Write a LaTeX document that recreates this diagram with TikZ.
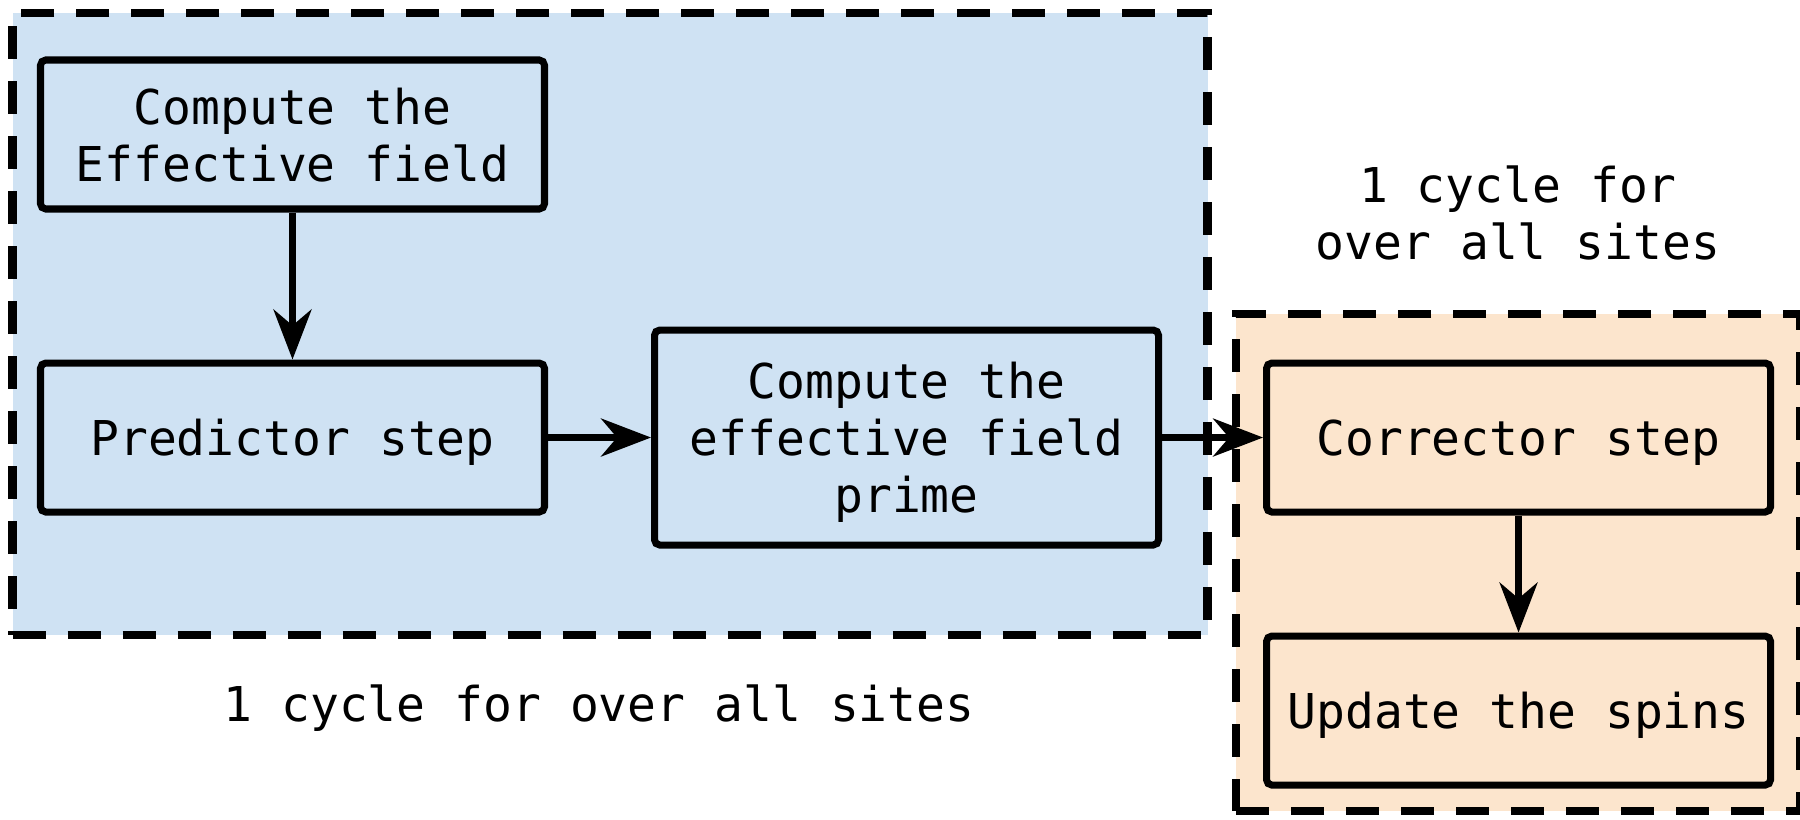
\documentclass[tikz,border=0pt]{standalone}
\usepackage{fontspec}
\setmainfont{DejaVu Sans Mono}
\usepackage{xcolor}
\usetikzlibrary{arrows.meta,positioning}
\definecolor{sweepblue}{HTML}{CFE2F3}
\definecolor{siteorange}{HTML}{FCE5CD}
\tikzset{
  block/.style   = {draw, line width=2pt, rounded corners=1.5pt, align=center,
                    minimum width=5.04cm, minimum height=1.49cm, inner sep=4pt, text depth=0pt,
                    font=\fontsize{13.65}{16.2}\selectfont},
  group/.style   = {draw, dash pattern=on 0.33cm off 0.22cm, line width=2.3pt, inner sep=0pt},
  caption/.style = {align=center, font=\fontsize{13.65}{16.2}\selectfont},
  line/.style    = {-{Stealth[length=5mm, width=3.8mm, inset=1.6mm]}, line width=1.8pt},
}

\begin{document}
\begin{tikzpicture}[node distance=14.7mm and 10.3mm]
    \useasboundingbox (0,0) rectangle (18,8.19);

    % Loop frames
    \node[group, fill=sweepblue, minimum width=11.95cm, minimum height=6.22cm] (sweep) at (6.10,4.95) {};
    \node[group, fill=siteorange, minimum width=5.64cm, minimum height=4.97cm] (sites) at (15.18,2.565) {};

    % Predictor part
    \node[block] (field) at (2.925,6.845) {Compute the\\Effective field};
    \node[block, below=of field] (predictor) {Predictor step};
    \node[block, right=of predictor, minimum height=2.15cm] (fieldp) {Compute the\\effective field\\prime};

    % Corrector part
    \node[block, right=10.1mm of fieldp] (corrector) {Corrector step};
    \node[block, below=11.7mm of corrector] (spins) {Update the spins};

    % Edges
    \draw[line] (field) -- (predictor);
    \draw[line] (predictor) -- (fieldp);
    \draw[line] (fieldp) -- (corrector);
    \draw[line] (corrector) -- (spins);

    % Loop captions
    \node[caption] (sweeplabel) at (5.99,1.105) {1 cycle for over all sites};
    \node[caption] (siteslabel) at (15.18,6.06) {1 cycle for\\over all sites};
  \end{tikzpicture}
\end{document}
